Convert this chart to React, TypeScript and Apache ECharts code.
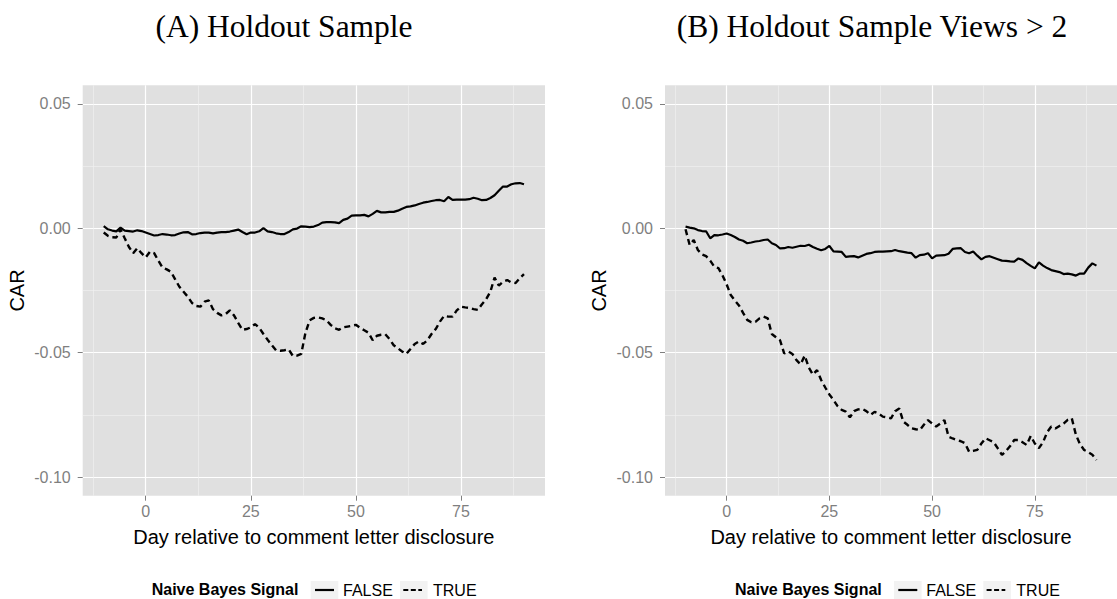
import React, { useEffect, useRef } from "react";
import * as echarts from "echarts";

const days = [
  -10, -9, -8, -7, -6, -5, -4, -3, -2, -1,
  0, 1, 2, 3, 4, 5, 6, 7, 8, 9,
  10, 11, 12, 13, 14, 15, 16, 17, 18, 19,
  20, 21, 22, 23, 24, 25, 26, 27, 28, 29,
  30, 31, 32, 33, 34, 35, 36, 37, 38, 39,
  40, 41, 42, 43, 44, 45, 46, 47, 48, 49,
  50, 51, 52, 53, 54, 55, 56, 57, 58, 59,
  60, 61, 62, 63, 64, 65, 66, 67, 68, 69,
  70, 71, 72, 73, 74, 75, 76, 77, 78, 79,
  80, 81, 82, 83, 84, 85, 86, 87, 88, 89,
  90,
];

const panelATitle = "(A) Holdout Sample";
const panelBTitle = "(B) Holdout Sample Views > 2";

const aFalse = [
  0.0009, -0.0004, -0.0009, -0.0012, 0.0003, -0.0009, -0.0011, -0.0013, -0.0008, -0.0011,
  -0.0017, -0.0023, -0.0029, -0.0027, -0.0023, -0.0025, -0.0028, -0.0027, -0.0021, -0.0016,
  -0.0015, -0.0024, -0.0023, -0.0019, -0.0017, -0.0017, -0.002, -0.0017, -0.0015, -0.0015,
  -0.0013, -0.0009, -0.0005, -0.0015, -0.0024, -0.0017, -0.0017, -0.0012, 0.0001, -0.0012,
  -0.0015, -0.002, -0.0023, -0.0023, -0.0015, -0.0004, -0.0001, 0.0008, 0.0007, 0.0005,
  0.0007, 0.0013, 0.0023, 0.0025, 0.0025, 0.0024, 0.0021, 0.0034, 0.0039, 0.0051,
  0.0052, 0.0052, 0.0054, 0.0048, 0.0058, 0.007, 0.0064, 0.0064, 0.0066, 0.0066,
  0.0071, 0.0079, 0.0086, 0.0088, 0.0092, 0.0098, 0.0103, 0.0106, 0.011, 0.0113,
  0.0114, 0.0109, 0.0126, 0.0114, 0.0115, 0.0115, 0.0115, 0.0117, 0.0123, 0.0119,
  0.0113, 0.0114, 0.0122, 0.0133, 0.0151, 0.0168, 0.0168, 0.0177, 0.0181, 0.0182,
  0.0177,
];

const aTrue = [
  -0.0017, -0.003, -0.0036, -0.0037, -0.0004, -0.004, -0.0075, -0.01, -0.008, -0.01,
  -0.0117, -0.0094, -0.01, -0.013, -0.0158, -0.0165, -0.0175, -0.0205, -0.0235, -0.0255,
  -0.0275, -0.03, -0.0312, -0.0315, -0.0295, -0.029, -0.0325, -0.034, -0.035, -0.0345,
  -0.033, -0.035, -0.038, -0.0408, -0.0405, -0.0398, -0.0385, -0.04, -0.0425, -0.0448,
  -0.047, -0.049, -0.0492, -0.049, -0.0487, -0.0513, -0.0512, -0.0505, -0.042, -0.037,
  -0.036, -0.0358, -0.0362, -0.037, -0.0388, -0.0402, -0.0408, -0.0398, -0.0395, -0.0392,
  -0.0388, -0.04, -0.041, -0.042, -0.045, -0.0432, -0.0428, -0.0426, -0.0445, -0.047,
  -0.0482, -0.0495, -0.0505, -0.0485, -0.0465, -0.0455, -0.0465, -0.045, -0.0425, -0.0405,
  -0.0375, -0.0352, -0.0355, -0.0355, -0.033, -0.0315, -0.0318, -0.032, -0.0325, -0.0328,
  -0.0305, -0.0285, -0.0255, -0.0198, -0.023, -0.0215, -0.0208, -0.0218, -0.022, -0.02,
  -0.0184,
];

const bFalse = [
  0.0007, 0.0003, 0.0, -0.0007, -0.0011, -0.0012, -0.004, -0.0027, -0.0028, -0.0025,
  -0.0021, -0.0027, -0.0035, -0.0045, -0.005, -0.006, -0.0057, -0.0053, -0.0051, -0.0047,
  -0.0045, -0.006, -0.0067, -0.0081, -0.008, -0.0075, -0.0078, -0.0074, -0.007, -0.0071,
  -0.0066, -0.0075, -0.0082, -0.0088, -0.0083, -0.0071, -0.0093, -0.0094, -0.0095, -0.0115,
  -0.0113, -0.0112, -0.0117, -0.011, -0.0103, -0.01, -0.0095, -0.0094, -0.0094, -0.0093,
  -0.0092, -0.0087, -0.0092, -0.0095, -0.0098, -0.01, -0.0118, -0.0108, -0.0106, -0.01,
  -0.0121, -0.011, -0.0109, -0.0108, -0.0102, -0.0083, -0.0081, -0.008, -0.0095, -0.01,
  -0.0093, -0.011, -0.0125, -0.0115, -0.0112, -0.0118, -0.0124, -0.013, -0.0131, -0.0133,
  -0.0134, -0.0121, -0.0127, -0.014, -0.0151, -0.0161, -0.0137, -0.015, -0.016, -0.0168,
  -0.0172, -0.0176, -0.0184, -0.0182, -0.0185, -0.019, -0.0182, -0.0182, -0.0158, -0.0141,
  -0.015,
];

const bTrue = [
  -0.0004, -0.0067, -0.0047, -0.0087, -0.0105, -0.0112, -0.013, -0.0154, -0.016, -0.019,
  -0.0225, -0.0268, -0.029, -0.031, -0.034, -0.0368, -0.0378, -0.0376, -0.0362, -0.0355,
  -0.0362, -0.0425, -0.0438, -0.045, -0.0503, -0.0495, -0.0505, -0.053, -0.0547, -0.0512,
  -0.056, -0.0588, -0.057, -0.061, -0.064, -0.0668, -0.069, -0.0715, -0.073, -0.0737,
  -0.076, -0.0735, -0.0728, -0.0726, -0.0735, -0.075, -0.0738, -0.0745, -0.0757, -0.076,
  -0.0764, -0.0735, -0.0724, -0.0777, -0.079, -0.0804, -0.0808, -0.0811, -0.079, -0.0771,
  -0.0785, -0.0797, -0.0785, -0.0771, -0.0838, -0.0845, -0.0851, -0.0856, -0.0864, -0.0898,
  -0.0895, -0.0891, -0.0865, -0.0844, -0.0852, -0.086, -0.0885, -0.0911, -0.0895, -0.0875,
  -0.0851, -0.0851, -0.086, -0.0871, -0.0835, -0.0865, -0.0884, -0.086, -0.082, -0.0797,
  -0.0805, -0.0795, -0.0785, -0.077, -0.0764, -0.083, -0.0868, -0.0891, -0.09, -0.091,
  -0.0931,
];

const xMajorTicks = [0, 25, 50, 75];
const xMinorTicks = [-12.5, 12.5, 37.5, 62.5, 87.5];
const yMajorTicks = [0.05, 0, -0.05, -0.1];
const yMinorTicks = [0.025, -0.025, -0.075];
const xRange = [-15, 95];
const yRange = [-0.1075, 0.0575];

const xTitle = "Day relative to comment letter disclosure";
const yTitle = "CAR";
const legendTitle = "Naive Bayes Signal";
const legendItems = ["FALSE", "TRUE"];

const SANS = "Liberation Sans, Arial, sans-serif";
const SERIF = "Liberation Serif, Times New Roman, serif";
const DASH = [6, 4];

function pairs(vals: number[]) {
  return days.map((d, i) => [d, vals[i]]);
}

export default function App() {
  const ref = useRef<HTMLDivElement>(null);
  useEffect(() => {
    if (!ref.current) return;
    const chart = echarts.init(ref.current, undefined, { renderer: "svg" });

    const grids = [
      { left: 82.7, top: 85.3, width: 462.3, height: 410.4 },
      { left: 665, top: 85.3, width: 462.3, height: 410.4 },
    ];

    const majorX = (gi: number) => ({
      type: "value",
      gridIndex: gi,
      min: xRange[0],
      max: xRange[1],
      position: "bottom",
      name: xTitle,
      nameLocation: "middle",
      nameGap: 31,
      nameTextStyle: { fontFamily: SANS, fontSize: 20, color: "#000" },
      axisLine: { show: false, onZero: false },
      axisTick: {
        show: true,
        length: 5,
        customValues: xMajorTicks,
        lineStyle: { color: "#7f7f7f", width: 1 },
      },
      axisLabel: {
        customValues: xMajorTicks,
        fontFamily: SANS,
        fontSize: 16,
        color: "#7f7f7f",
        margin: 8,
      },
      splitLine: { show: true, lineStyle: { color: "#ffffff", width: 1.2 } },
    });
    const minorX = (gi: number) => ({
      type: "value",
      gridIndex: gi,
      min: xRange[0],
      max: xRange[1],
      position: "top",
      axisLine: { show: false, onZero: false },
      axisTick: { show: false, customValues: xMinorTicks },
      axisLabel: { show: false, customValues: xMinorTicks },
      splitLine: { show: true, lineStyle: { color: "#f2f2f2", width: 0.6 } },
    });
    const majorY = (gi: number) => ({
      type: "value",
      gridIndex: gi,
      min: yRange[0],
      max: yRange[1],
      position: "left",
      name: yTitle,
      nameLocation: "middle",
      nameGap: 56,
      nameTextStyle: { fontFamily: SANS, fontSize: 20, color: "#000" },
      axisLine: { show: false, onZero: false },
      axisTick: {
        show: true,
        length: 5,
        customValues: yMajorTicks,
        lineStyle: { color: "#7f7f7f", width: 1 },
      },
      axisLabel: {
        customValues: yMajorTicks,
        fontFamily: SANS,
        fontSize: 16,
        color: "#7f7f7f",
        margin: 12,
        formatter: (v: number) => v.toFixed(2),
      },
      splitLine: { show: true, lineStyle: { color: "#ffffff", width: 1.2 } },
    });
    const minorY = (gi: number) => ({
      type: "value",
      gridIndex: gi,
      min: yRange[0],
      max: yRange[1],
      position: "right",
      axisLine: { show: false, onZero: false },
      axisTick: { show: false, customValues: yMinorTicks },
      axisLabel: { show: false, customValues: yMinorTicks },
      splitLine: { show: true, lineStyle: { color: "#f2f2f2", width: 0.6 } },
    });

    const lineSeries = (name: string, vals: number[], gi: number, dashed: boolean) => ({
      type: "line",
      name,
      xAxisIndex: gi,
      yAxisIndex: gi,
      data: pairs(vals),
      showSymbol: false,
      symbol: "none",
      z: 5,
      lineStyle: { color: "#000", width: dashed ? 2.4 : 2.2, type: dashed ? DASH : "solid" },
    });

    const legendGraphics = (dx: number) => [
      {
        type: "text",
        left: 151.7 + dx,
        top: 581,
        style: {
          text: legendTitle,
          font: `bold 16px ${SANS}`,
          fill: "#000",
        },
      },
      {
        type: "rect",
        shape: { x: 310.7 + dx, y: 581, width: 27.6, height: 18 },
        style: { fill: "#f2f2f2" },
      },
      {
        type: "line",
        shape: { x1: 315 + dx, y1: 590, x2: 334 + dx, y2: 590 },
        style: { stroke: "#000", lineWidth: 2.2 },
      },
      {
        type: "text",
        left: 343 + dx,
        top: 582,
        style: { text: legendItems[0], font: `16px ${SANS}`, fill: "#000" },
      },
      {
        type: "rect",
        shape: { x: 400 + dx, y: 581, width: 27.6, height: 18 },
        style: { fill: "#f2f2f2" },
      },
      {
        type: "line",
        shape: { x1: 403.3 + dx, y1: 590, x2: 422 + dx, y2: 590 },
        style: { stroke: "#000", lineWidth: 2.2, lineDash: [5, 2.5] },
      },
      {
        type: "text",
        left: 433 + dx,
        top: 582,
        style: { text: legendItems[1], font: `16px ${SANS}`, fill: "#000" },
      },
    ];

    chart.setOption({
      animation: false,
      backgroundColor: "#ffffff",
      title: [
        {
          text: panelATitle,
          left: 279,
          top: 5,
          textAlign: "center",
          textStyle: { fontFamily: SERIF, fontSize: 31.5, fontWeight: "normal", color: "#000" },
        },
        {
          text: panelBTitle,
          left: 867,
          top: 5,
          textAlign: "center",
          textStyle: { fontFamily: SERIF, fontSize: 31.5, fontWeight: "normal", color: "#000" },
        },
      ],
      legend: { show: false },
      grid: grids.map((g) => ({
        ...g,
        show: true,
        backgroundColor: "#e0e0e0",
        borderWidth: 0,
        containLabel: false,
      })),
      xAxis: [majorX(0), majorX(1), minorX(0), minorX(1)],
      yAxis: [majorY(0), majorY(1), minorY(0), minorY(1)],
      series: [
        lineSeries("FALSE", aFalse, 0, false),
        lineSeries("TRUE", aTrue, 0, true),
        lineSeries("FALSE", bFalse, 1, false),
        lineSeries("TRUE", bTrue, 1, true),
      ],
      graphic: [...legendGraphics(0), ...legendGraphics(583.3)],
    });

    return () => chart.dispose();
  }, []);

  return (
    <div
      ref={ref}
      style={{ position: "fixed", left: 0, top: 0, width: 1117, height: 599, background: "#fff" }}
    />
  );
}
